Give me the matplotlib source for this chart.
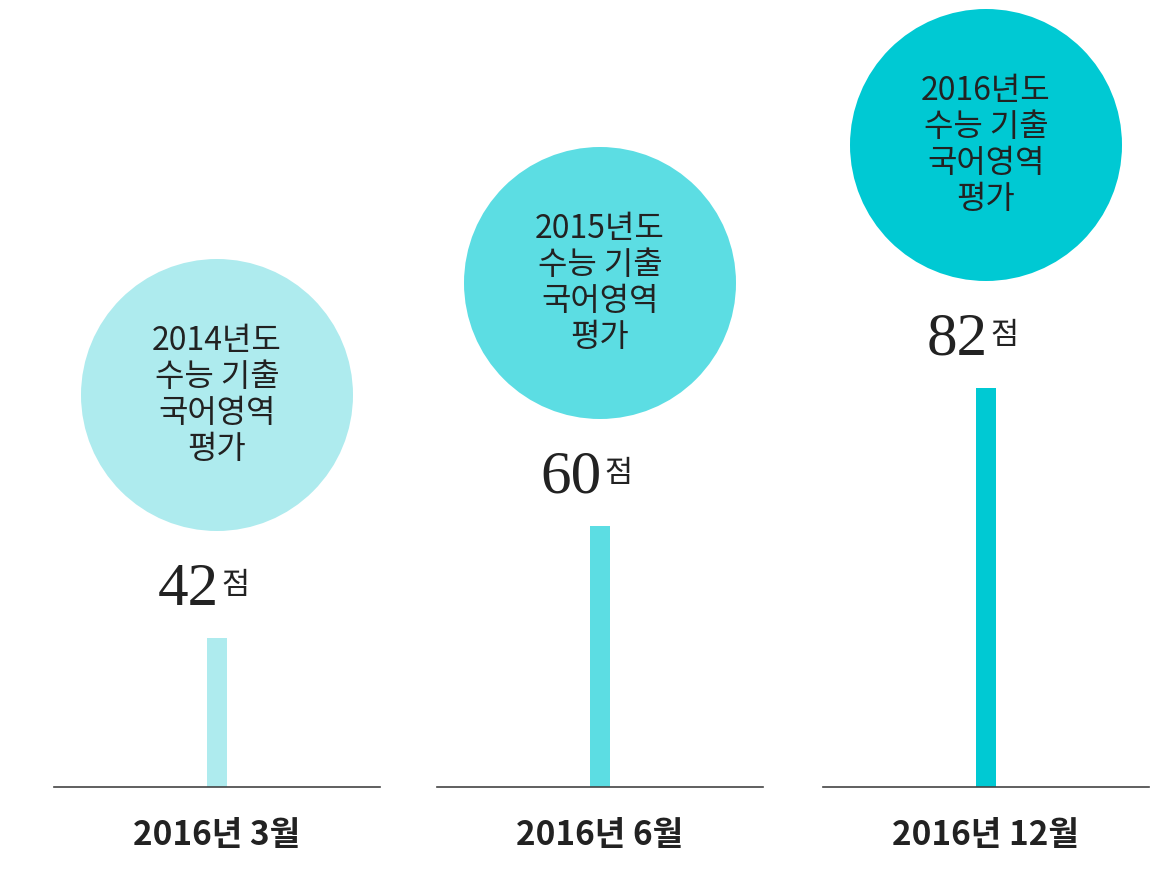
import matplotlib
matplotlib.use("Agg")
import matplotlib.pyplot as plt
from matplotlib.patches import Circle

periods = ["2016년 3월", "2016년 6월", "2016년 12월"]
scores = [42, 60, 82]
bar_heights = [149, 261, 399]  # (px above baseline)
circle_texts = ["2014년도\n수능 기출\n국어영역\n평가", "2015년도\n수능 기출\n국어영역\n평가", "2016년도\n수능 기출\n국어영역\n평가"]
colors = ["#aeebee", "#5cdde3", "#00c9d3"]

W, H = 1168, 871
fig = plt.figure(figsize=(W/100, H/100), dpi=100)
ax = fig.add_axes([0, 0, 1, 1])
ax.set_xlim(0, W); ax.set_ylim(0, H); ax.axis("off")

base = H - 787
centers = [217, 600, 986]
seg_half = 163
kr = ["Noto Sans CJK KR", "DejaVu Sans"]
for i, (cx, s, h, t, c, p) in enumerate(zip(centers, scores, bar_heights, circle_texts, colors, periods)):
    ax.plot([cx - seg_half, cx + seg_half], [base, base], color="#444444", lw=1.2)
    ax.bar(cx, h, width=20, bottom=base, color=c)
    top = base + h
    ax.text(cx + 2, top + 48, str(s), family="Liberation Serif", fontsize=44,
            ha="right", va="center", color="#222222")
    ax.text(cx + 4, top + 53, "점", family=kr, fontsize=22, ha="left", va="center", color="#222222")
    cy = top + 243
    ax.add_patch(Circle((cx, cy), 136, color=c, lw=0))
    ax.text(cx, cy, t, family=kr, fontsize=23, ha="center", va="center",
            color="#222222", linespacing=1.15)
    ax.text(cx, H - 835, p, family=kr, fontsize=24, fontweight="bold",
            ha="center", va="center", color="#222222")

fig.savefig("out.png", dpi=100)
